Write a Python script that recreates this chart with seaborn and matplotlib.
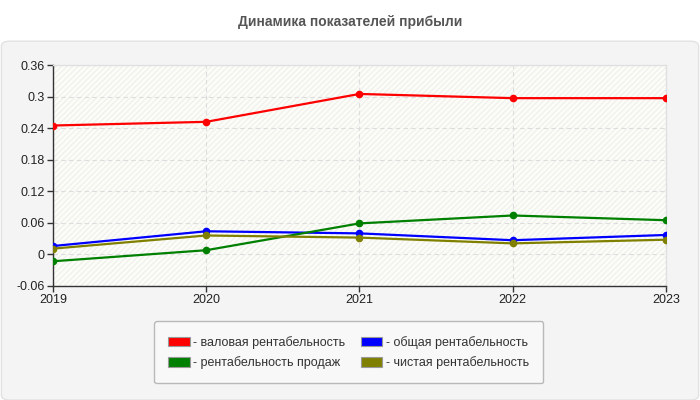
import matplotlib
matplotlib.use("Agg")
import matplotlib.pyplot as plt
import seaborn as sns
import pandas as pd
from matplotlib.patches import FancyBboxPatch, Rectangle, Patch

years = [2019, 2020, 2021, 2022, 2023]
gross = [0.245, 0.252, 0.305, 0.297, 0.297]
total = [0.016, 0.044, 0.040, 0.027, 0.037]
sales = [-0.013, 0.008, 0.059, 0.074, 0.065]
net = [0.011, 0.036, 0.032, 0.021, 0.028]
series_names = ["- валовая рентабельность", "- общая рентабельность",
                "- рентабельность продаж", "- чистая рентабельность"]
colors = ["#ff0000", "#0000ff", "#008000", "#808000"]
yticks = [-0.06, 0, 0.06, 0.12, 0.18, 0.24, 0.3, 0.36]
ytick_labels = ["-0.06", "0", "0.06", "0.12", "0.18", "0.24", "0.3", "0.36"]
title = "Динамика показателей прибыли"

rows = []
for name, vals in zip(series_names, [gross, total, sales, net]):
    for y, v in zip(years, vals):
        rows.append({"year": y, "value": v, "series": name})
df = pd.DataFrame(rows)

sns.set_theme(style="white")
plt.rcParams['font.family'] = ['Liberation Sans', 'DejaVu Sans']

fig = plt.figure(figsize=(7, 4), dpi=100)
fig.patch.set_facecolor("white")
panel = FancyBboxPatch((0.002, 0.0), 0.996, 0.897, boxstyle="round,pad=0,rounding_size=0.012",
                       transform=fig.transFigure, facecolor="#f4f4f4", edgecolor="#e2e2e2",
                       linewidth=1, zorder=-5)
fig.patches.append(panel)

ax = fig.add_axes([0.0757, 0.285, 0.8757, 0.5525])
ax.set_zorder(2)
ax.set_facecolor("#fdfdf8")
hatch = Rectangle((0, 0), 1, 1, transform=ax.transAxes, facecolor="none",
                  edgecolor="#f0f0ee", hatch="//////", linewidth=0, zorder=0)
ax.add_patch(hatch)

sns.lineplot(data=df, x="year", y="value", hue="series", palette=colors,
             marker="o", markersize=5.5, markeredgewidth=0, linewidth=1.6,
             ax=ax, legend=False, zorder=3)

ax.set_xlim(2019, 2023)
ax.set_ylim(-0.06, 0.36)
ax.set_xticks(years)
ax.set_xticklabels([str(y) for y in years])
ax.set_yticks(yticks)
ax.set_yticklabels(ytick_labels)
ax.set_xlabel("")
ax.set_ylabel("")
ax.grid(True, color="#dddddd", linestyle=(0, (4, 3)), linewidth=0.8, zorder=1)
ax.set_axisbelow(True)
for s in ["top", "right"]:
    ax.spines[s].set_color("#e0e0e0")
    ax.spines[s].set_linewidth(1)
for s in ["left", "bottom"]:
    ax.spines[s].set_color("#333333")
    ax.spines[s].set_linewidth(1)
ax.tick_params(axis="both", which="both", length=4, width=1, color="#333333",
               labelsize=9, labelcolor="#222222", direction="out", bottom=True, left=True, pad=2)

fig.text(0.5, 0.945, title, ha="center", va="center", fontsize=10, fontweight="bold",
         color="#555555")

order = [0, 2, 1, 3]
handles = [Patch(facecolor=colors[i], edgecolor="#999999", linewidth=0.8) for i in order]
labels = [series_names[i] for i in order]
leg = fig.legend(handles, labels, loc="center", bbox_to_anchor=(0.498, 0.119),
                 ncol=2, fontsize=9, frameon=True, handlelength=1.7, handleheight=0.8,
                 columnspacing=1.2, handletextpad=0.3, borderpad=1.15, labelspacing=0.6,
                 fancybox=True)
leg.get_frame().set_facecolor("#fafafa")
leg.get_frame().set_edgecolor("#aaaaaa")
leg.get_frame().set_linewidth(1)
for t in leg.get_texts():
    t.set_color("#333333")

fig.savefig("out.png", dpi=100, facecolor=fig.get_facecolor())
